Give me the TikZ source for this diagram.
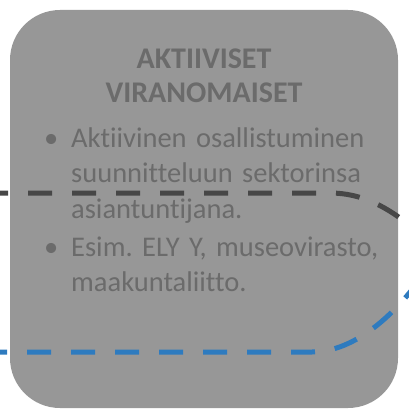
\documentclass[tikz,border=0pt]{standalone}
\usepackage{fontspec}
\setmainfont{Carlito}[Ligatures=NoCommon]
\usepackage{xcolor}
\usepackage{tikz}
\usetikzlibrary{positioning}
\definecolor{panelgray}{HTML}{979797}
\definecolor{textgray}{HTML}{6B6B6B}
\definecolor{linegray}{HTML}{474747}
\definecolor{lineblue}{HTML}{2E7BBF}
\frenchspacing

\begin{document}
\begin{tikzpicture}[
    x=1pt, y=-1pt,
    panel/.style={
        draw=none,
        fill=panelgray,
        rounded corners=50pt},
    heading/.style={
        text=textgray,
        font=\fontsize{30}{34}\selectfont\bfseries,
        align=center,
        inner sep=0pt},
    bullets/.style={
        text=textgray,
        font=\fontsize{28.5}{35.5}\selectfont,
        text width=345pt,
        align=left,
        inner sep=0pt},
    link/.style={
        line width=5pt,
        dash pattern=on 24pt off 20pt}]
    \useasboundingbox (0,0) rectangle (408,420);
    \fill[panel] (10,10) rectangle (398,408);
    \node[heading, anchor=base] (title) at (204,102) {AKTIIVISET\\VIRANOMAISET};
    \node[bullets, anchor=base west] (tasks) at (44,147) {%
        \hyphenpenalty=10000
        \hangindent=27pt\hangafter=1\noindent\makebox[27pt][l]{\textbullet}Aktiivinen osallistuminen suunnitteluun sektorinsa asiantuntijana.\par
        \vspace{2.5pt}
        \hangindent=27pt\hangafter=1\noindent\makebox[27pt][l]{\textbullet}Esim. ELY Y, museovirasto, maakuntaliitto.\par};

    % katkoviivat
    \coordinate (grayin) at (-16,193);
    \coordinate (grayout) at (422,236);
    \coordinate (bluein) at (-17,352);
    \coordinate (blueout) at (418,282);
    \draw[link, linegray] (grayin) -- (330,193) .. controls (362,193) and (390,207) .. (grayout);
    \draw[link, lineblue] (bluein) -- (312,352) .. controls (350,352) and (388,322) .. (blueout);
\end{tikzpicture}
\end{document}
